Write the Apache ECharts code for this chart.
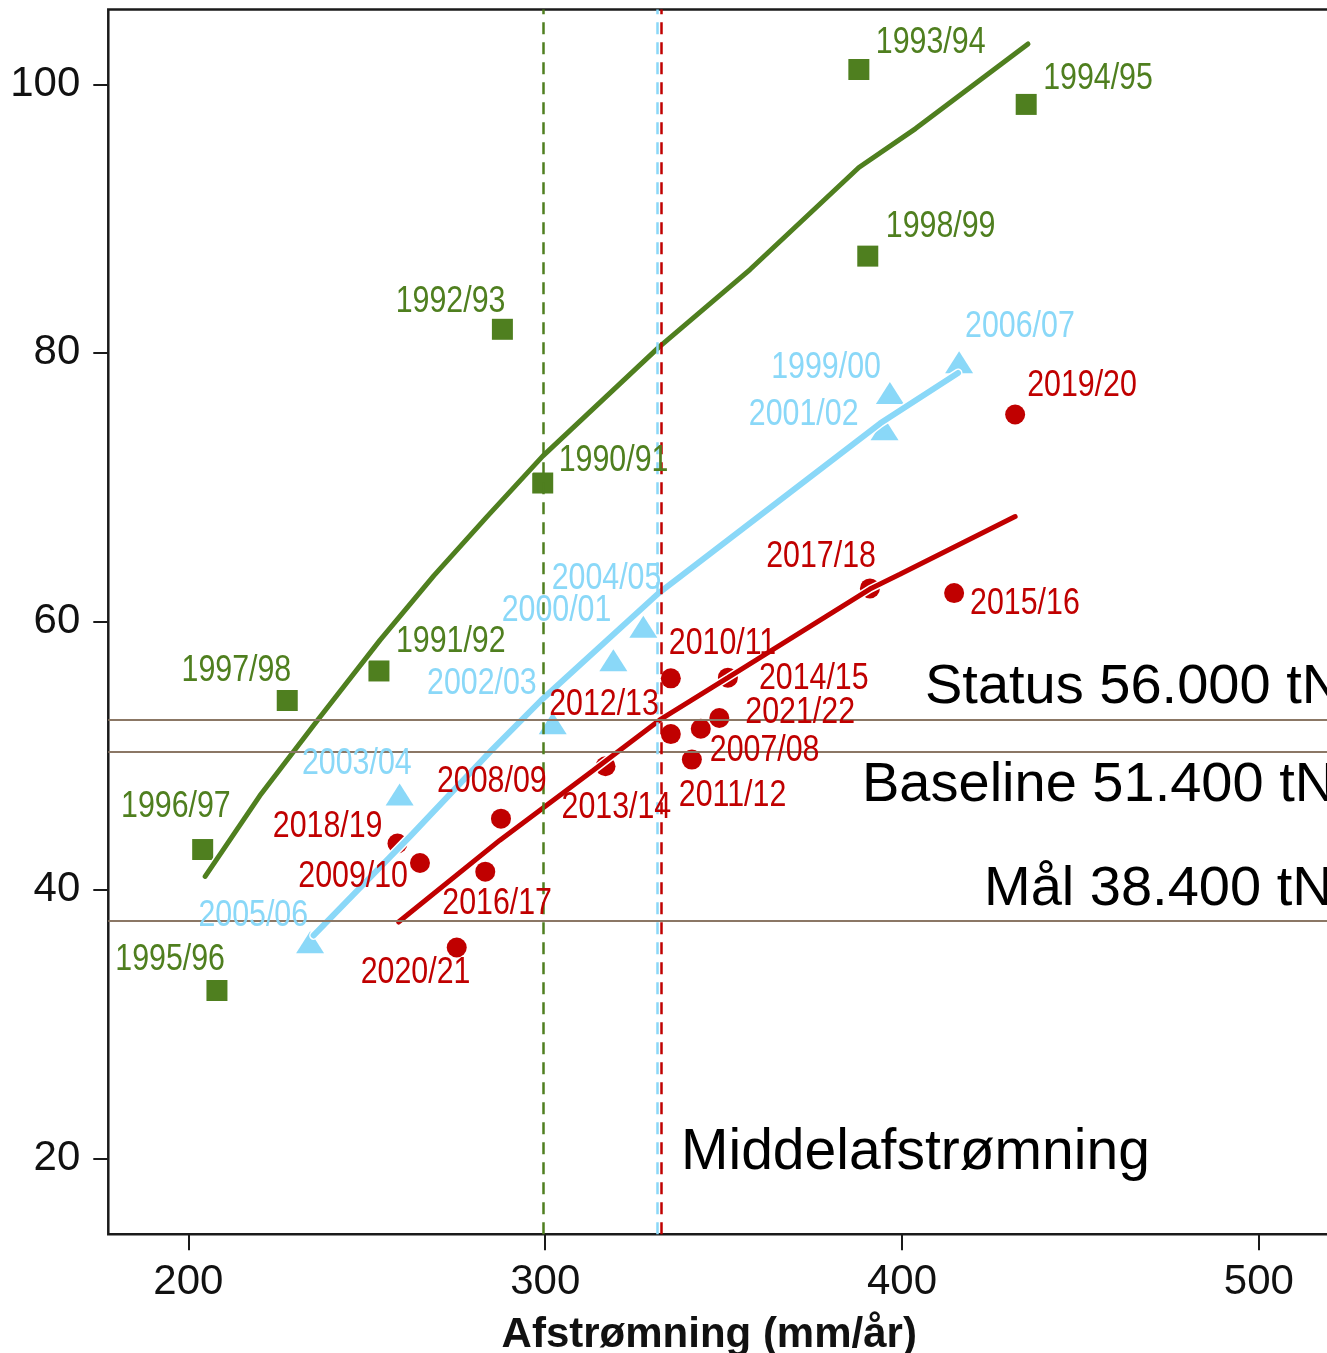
<!DOCTYPE html>
<html>
<head>
<meta charset="utf-8">
<script src="https://cdn.jsdelivr.net/npm/echarts@6/dist/echarts.min.js"></script>
<style>
html, body { margin: 0; padding: 0; background: #fff; overflow: hidden; }
#chart { width: 1327px; height: 1353px; }
</style>
</head>
<body>
<div id="chart"></div>
<script>
// green squares (1990/91 - 1998/99)
var greenYears = ['1990/91', '1991/92', '1992/93', '1993/94', '1994/95', '1995/96', '1996/97', '1997/98', '1998/99']
var greenX = [299.3, 253.4, 288.0, 387.9, 434.8, 208.0, 204.0, 227.7, 390.4]
var greenY = [70.3, 56.3, 81.75, 101.1, 98.5, 32.5, 43.0, 54.1, 87.2]

// blue triangles (1999/00 - 2006/07)
var blueYears = ['1999/00', '2000/01', '2001/02', '2002/03', '2003/04', '2004/05', '2005/06', '2006/07']
var blueX = [396.6, 319.1, 395.1, 302.1, 259.2, 327.5, 234.1, 416.0]
var blueY = [77.0, 57.1, 74.3, 52.4, 47.1, 59.6, 36.1, 79.3]

// red circles (2007/08 - 2021/22)
var redYears = ['2007/08', '2008/09', '2009/10', '2010/11', '2011/12', '2012/13', '2013/14', '2014/15',
  '2015/16', '2016/17', '2017/18', '2018/19', '2019/20', '2020/21', '2021/22']
var redX = [343.6, 287.6, 264.9, 335.2, 341.1, 335.2, 316.9, 351.2, 414.6, 283.2, 391.0, 258.6, 431.7, 275.2, 348.8]
var redY = [52.0, 45.3, 42.0, 55.75, 49.7, 51.6, 49.2, 55.8, 62.1, 41.35, 62.45, 43.45, 75.4, 35.7, 52.8]

// fitted curves
var greenFitX = [204.7, 220.0, 236.4, 253.7, 268.8, 283.7, 299.3, 331.8, 357.4, 387.9, 403.8, 435.3]
var greenFitY = [41.0, 47.0, 52.7, 58.6, 63.4, 67.8, 72.3, 80.4, 86.2, 93.8, 96.7, 103.0]
var blueFitX = [235.1, 262.2, 285.0, 298.8, 331.8, 393.9, 415.7]
var blueFitY = [36.6, 44.0, 50.4, 54.1, 62.1, 74.75, 78.5]
var redFitX = [258.9, 287.3, 313.5, 332.1, 351.2, 391.0, 399.4, 431.7]
var redFitY = [37.6, 43.7, 48.9, 52.65, 55.8, 62.4, 63.5, 67.8]

// reference levels and mean runoff per period
var statusLevel = 52.65
var baselineLevel = 50.26
var goalLevel = 37.7
var meanGreen = 299.4
var meanBlue = 331.3
var meanRed = 332.5

var xTicks = [200, 300, 400, 500]
var yTicks = [20, 40, 60, 80, 100]

var GREEN = '#4f7f1f'
var BLUE = '#8ad8f8'
var RED = '#c00000'
var REFLINE = '#8b7765'
var mainFont = '"Liberation Sans", Arial, sans-serif'

// label placement: [align, dx, dy] from point centre
var labelPlace = {
  '1993/94': ['left', 17, -27], '1994/95': ['left', 17, -26], '1998/99': ['left', 18, -29],
  '1992/93': ['right', 3, -27], '1990/91': ['left', 16, -22], '1991/92': ['left', 17, -29],
  '1997/98': ['right', 4, -30], '1996/97': ['right', 28, -43], '1995/96': ['right', 8, -31],
  '2006/07': ['left', 6, -35], '1999/00': ['right', -9, -25], '2001/02': ['right', -26, -15],
  '2004/05': ['right', 18, -48], '2000/01': ['right', -2, -49], '2002/03': ['right', -16, -40],
  '2003/04': ['right', 12, -31], '2005/06': ['right', -2, -26],
  '2019/20': ['left', 12, -29], '2017/18': ['right', 6, -32], '2015/16': ['left', 16, 11],
  '2010/11': ['left', -2, -35], '2014/15': ['left', 31, 1], '2021/22': ['left', 26, -5],
  '2007/08': ['left', 9, 22], '2012/13': ['right', -12, -29], '2011/12': ['left', -13, 36],
  '2013/14': ['left', -44, 42], '2008/09': ['left', -64, -37], '2018/19': ['right', -15, -17],
  '2009/10': ['right', -12, 14], '2016/17': ['left', -43, 32], '2020/21': ['left', -96, 25]
}

function pairs(xs, ys) {
  var out = []
  for (var i = 0; i < xs.length; i++) out.push([xs[i], ys[i]])
  return out
}

function scatter(years, xs, ys, color, symbol, size) {
  return {
    type: 'scatter',
    symbol: symbol,
    symbolSize: size,
    z: 2,
    silent: true,
    itemStyle: { color: color, opacity: 1 },
    data: pairs(xs, ys)
  }
}

// year labels drawn as narrow text (Arial Narrow look) next to each point
function yearLabels(years, xs, ys, color) {
  var data = []
  for (var i = 0; i < years.length; i++) data.push([xs[i], ys[i], i])
  return {
    type: 'custom',
    z: 6,
    silent: true,
    encode: { x: 0, y: 1 },
    data: data,
    renderItem: function (params, api) {
      var name = years[api.value(2)]
      var p = labelPlace[name] || ['left', 10, -25]
      var c = api.coord([api.value(0), api.value(1)])
      return {
        type: 'text',
        x: c[0] + p[1],
        y: c[1] + p[2],
        scaleX: 0.82,
        style: {
          text: name,
          fill: color,
          font: '37px ' + mainFont,
          align: p[0],
          verticalAlign: 'middle'
        }
      }
    }
  }
}

function fitLine(xs, ys, color, width, casing) {
  return {
    type: 'line',
    symbol: 'none',
    z: casing ? 3 : 4,
    silent: true,
    lineStyle: { color: casing ? '#fff' : color, width: casing ? width + 3 : width, cap: 'round' },
    data: pairs(xs, ys)
  }
}

var chart = echarts.init(document.getElementById('chart'))

var option = {
  backgroundColor: '#fff',
  animation: false,
  grid: {
    left: 108.3,
    top: 9.5,
    width: 1221.9,
    height: 1224.8,
    containLabel: false,
    outerBoundsMode: 'none',
    show: true,
    borderColor: '#1a1a1a',
    borderWidth: 2.5
  },
  xAxis: {
    type: 'value',
    min: 177.55,
    max: 520,
    name: 'Afstrømning (mm/år)',
    nameLocation: 'middle',
    nameGap: 80,
    nameTextStyle: { fontFamily: mainFont, fontSize: 42, fontWeight: 'bold', color: '#111', padding: [0, 20, 0, 0] },
    axisLine: { show: false },
    axisTick: { show: true, customValues: xTicks, length: 16, lineStyle: { color: '#1a1a1a', width: 2 } },
    axisLabel: { customValues: xTicks, margin: 27, fontFamily: mainFont, fontSize: 42, color: '#111' },
    splitLine: { show: false }
  },
  yAxis: {
    type: 'value',
    min: 14.34,
    max: 105.57,
    axisLine: { show: false },
    axisTick: { show: true, customValues: yTicks, length: 15, lineStyle: { color: '#1a1a1a', width: 2 } },
    axisLabel: { customValues: yTicks, margin: 28, fontFamily: mainFont, fontSize: 42, color: '#111' },
    splitLine: { show: false }
  },
  graphic: [
    { type: 'text', left: 925, top: 660, z: 10, style: { text: 'Status 56.000 tN', font: '56px ' + mainFont, fill: '#000' } },
    { type: 'text', left: 862, top: 758, z: 10, style: { text: 'Baseline 51.400 tN', font: '56px ' + mainFont, fill: '#000' } },
    { type: 'text', left: 984, top: 862, z: 10, style: { text: 'Mål 38.400 tN', font: '56px ' + mainFont, fill: '#000' } },
    { type: 'text', left: 681, top: 1125, z: 10, style: { text: 'Middelafstrømning', font: '57px ' + mainFont, fill: '#000' } }
  ],
  series: [
    {
      type: 'line',
      data: [],
      silent: true,
      markLine: {
        silent: true,
        symbol: 'none',
        label: { show: false },
        lineStyle: { color: REFLINE, width: 2, type: 'solid' },
        data: [{ yAxis: statusLevel }, { yAxis: baselineLevel }, { yAxis: goalLevel }]
      }
    },
    {
      type: 'line',
      data: [],
      silent: true,
      markLine: {
        silent: true,
        symbol: 'none',
        label: { show: false },
        data: [
          { xAxis: meanGreen, lineStyle: { color: GREEN, width: 2.5, type: [12, 8] } },
          { xAxis: meanBlue, lineStyle: { color: BLUE, width: 2.5, type: [12, 8] } },
          { xAxis: meanRed, lineStyle: { color: RED, width: 2.5, type: [12, 8] } }
        ]
      }
    },
    scatter(greenYears, greenX, greenY, GREEN, 'rect', 21),
    scatter(blueYears, blueX, blueY, BLUE, 'triangle', [28, 22]),
    scatter(redYears, redX, redY, RED, 'circle', 20),
    fitLine(greenFitX, greenFitY, GREEN, 5, true),
    fitLine(greenFitX, greenFitY, GREEN, 5, false),
    fitLine(blueFitX, blueFitY, BLUE, 6, true),
    fitLine(blueFitX, blueFitY, BLUE, 6, false),
    fitLine(redFitX, redFitY, RED, 5, true),
    fitLine(redFitX, redFitY, RED, 5, false),
    yearLabels(greenYears, greenX, greenY, GREEN),
    yearLabels(blueYears, blueX, blueY, BLUE),
    yearLabels(redYears, redX, redY, RED)
  ]
}

chart.setOption(option)
</script>
</body>
</html>
